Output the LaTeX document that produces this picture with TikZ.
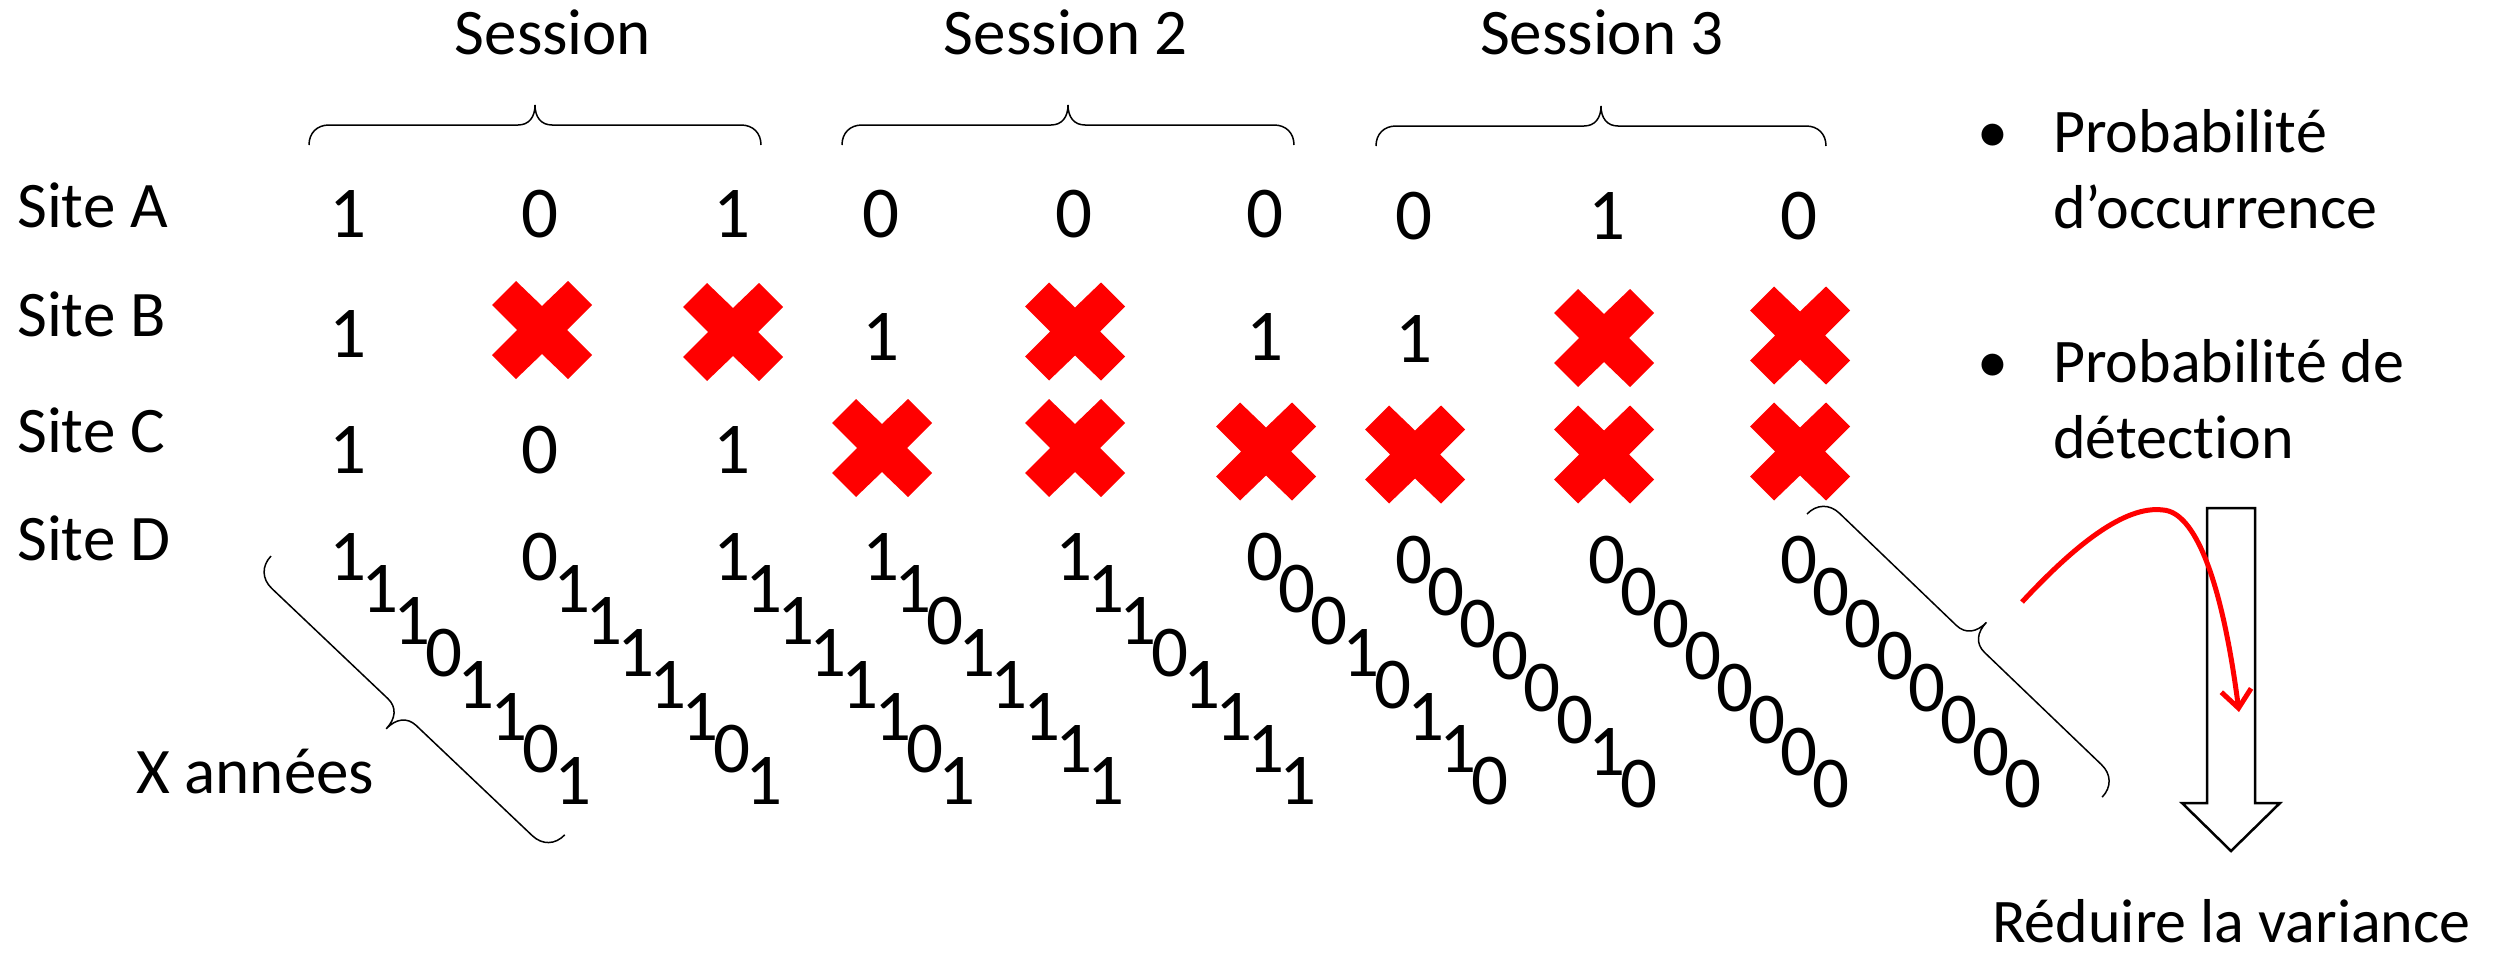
\documentclass[tikz,border=0pt]{standalone}
\usepackage{fontspec}
\setmainfont{Carlito}[Ligatures={NoCommon}]
\usetikzlibrary{arrows.meta}
\definecolor{xred}{RGB}{255,0,0}
% #1 = scope options, #2 = chord length, #3 = half depth
\newcommand{\drawbrace}[3]{%
  \draw[bracestyle,#1] (0,0) .. controls (0,{-0.6*#3}) and ({0.4*#3},{-#3}) .. ({#3},{-#3})
    -- ({#2/2-0.85*#3},{-#3}) .. controls ({#2/2-0.3*#3},{-#3}) and ({#2/2},{-1.4*#3}) .. ({#2/2},{-2*#3})
    .. controls ({#2/2},{-1.4*#3}) and ({#2/2+0.3*#3},{-#3}) .. ({#2/2+0.85*#3},{-#3})
    -- ({#2-#3},{-#3}) .. controls ({#2-0.4*#3},{-#3}) and ({#2},{-0.6*#3}) .. ({#2},0);}
\newcommand{\xcross}[2]{%
  \fill[redx, shift={(#1,#2)}] (-50,-25) -- (-26,-49) -- (0,-24) -- (26,-49) -- (50,-25) -- (25,0)
    -- (50,25) -- (26,49) -- (0,24) -- (-26,49) -- (-50,25) -- (-25,0) -- cycle;}
\begin{document}
\begin{tikzpicture}[x=1pt, y=-1pt,
  lbl/.style={anchor=base west, inner sep=0pt, font=\fontsize{65}{78}\selectfont},
  ses/.style={anchor=base, inner sep=0pt, font=\fontsize{65}{78}\selectfont},
  dig/.style={anchor=base, inner sep=0pt, font=\fontsize{73}{88}\selectfont},
  blt/.style={anchor=base west, inner sep=0pt, font=\fontsize{62}{76}\selectfont},
  bracestyle/.style={line width=1.5pt, black},
  redx/.style={fill=xred, draw=none},
  blockarrow/.style={draw=black, fill=white, line width=2.5pt, line join=miter},
  redarrow/.style={draw=xred, line width=5pt, -{Straight Barb[length=18pt,width=30pt]}}]
\fill[white] (0,0) rectangle (2503,956);
\useasboundingbox (0,0) rectangle (2503,956);

% session titles
\node[ses] (s1) at (553,54) {Session};
\node[ses] (s2) at (1066,54) {Session 2};
\node[ses] (s3) at (1602,54) {Session 3};

% horizontal braces
\drawbrace{shift={(309,145)}}{452}{20}
\drawbrace{shift={(842,145)}}{452}{20}
\drawbrace{shift={(1376,146)}}{450}{20}

% diagonal braces
\drawbrace{shift={(271,556)}, x={(0.7254pt,-0.6884pt)}, y={(0.6884pt,0.7254pt)}}{405}{23}
\drawbrace{shift={(1807,514)}, x={(0.7216pt,-0.6923pt)}, y={(-0.6923pt,-0.7216pt)}}{409}{23}

% site labels
\node[lbl] (sA) at (17,227) {Site A};
\node[lbl] (sB) at (17,336) {Site B};
\node[lbl] (sC) at (17,452) {Site C};
\node[lbl] (sD) at (17,560) {Site D};
\node[lbl] (xa) at (136,793) {X années};

% row A
\node[dig] (a1) at (348,237) {1};
\node[dig] (a2) at (539.5,237) {0};
\node[dig] (a3) at (732,237) {1};
\node[dig] (a4) at (881,237) {0};
\node[dig] (a5) at (1073.5,237) {0};
\node[dig] (a6) at (1265,237) {0};
\node[dig] (a7) at (1414,239) {0};
\node[dig] (a8) at (1606.5,239) {1};
\node[dig] (a9) at (1798.5,239) {0};

% row B
\node[dig] (b1) at (348,357) {1};
\node[dig] (b4) at (881,360) {1};
\node[dig] (b6) at (1265,360) {1};
\node[dig] (b7) at (1414,362) {1};
\xcross{542}{330}
\xcross{733}{332}
\xcross{1075}{331.5}
\xcross{1604}{338}
\xcross{1800}{335.5}

% row C
\node[dig] (c1) at (348,473) {1};
\node[dig] (c2) at (539.5,473) {0};
\node[dig] (c3) at (732,473) {1};
\xcross{882}{448}
\xcross{1075}{448}
\xcross{1266}{451.5}
\xcross{1415}{454.5}
\xcross{1604}{454.5}
\xcross{1800}{451.5}

% row D (diagonal years)
\foreach \c/\x/\b/\seq in {1/348/580/{1,1,1,0,1,1,0,1}, 2/539.5/580/{0,1,1,1,1,1,0,1},
    3/732/580/{1,1,1,1,1,1,0,1}, 4/881/580/{1,1,0,1,1,1,1,1}, 5/1073.5/580/{1,1,1,0,1,1,1,1},
    6/1265/580/{0,0,0,1,0,1,1,0}, 7/1414/583/{0,0,0,0,0,0,1,0}, 8/1606.5/583/{0,0,0,0,0,0,0,0},
    9/1798.5/583/{0,0,0,0,0,0,0,0}}{
  \foreach \v [count=\k from 0] in \seq {
    \node[dig] (d\c-\k) at ({\x+32.1*\k},{\b+32*\k}) {\v};
  }
}

% bullets
\node[blt, anchor=base] (bu1) at (1993,152) {•};
\node[blt] (p1) at (2053,152) {Probabilité};
\node[blt] (p1b) at (2053,228) {d’occurrence};
\node[blt, anchor=base] (bu2) at (1993,382) {•};
\node[blt] (p2) at (2053,382) {Probabilité de};
\node[blt] (p2b) at (2053,458) {détection};

% block arrow
\draw[blockarrow] (2207,508) -- (2255,508) -- (2255,803) -- (2280,803) -- (2231,851)
  -- (2182,803) -- (2207,803) -- cycle;
\node[blt, text depth=0pt] (rv) at (1992,942) {Réduire la variance};

% red curved arrow
\coordinate (rs) at (2022,602);
\coordinate (rp) at (2163,510);
\coordinate (re) at (2239,712);
\draw[redarrow] (rs) .. controls (2075,545) and (2125,505) .. (rp)
  .. controls (2195,512) and (2222,580) .. (re);
\end{tikzpicture}
\end{document}
